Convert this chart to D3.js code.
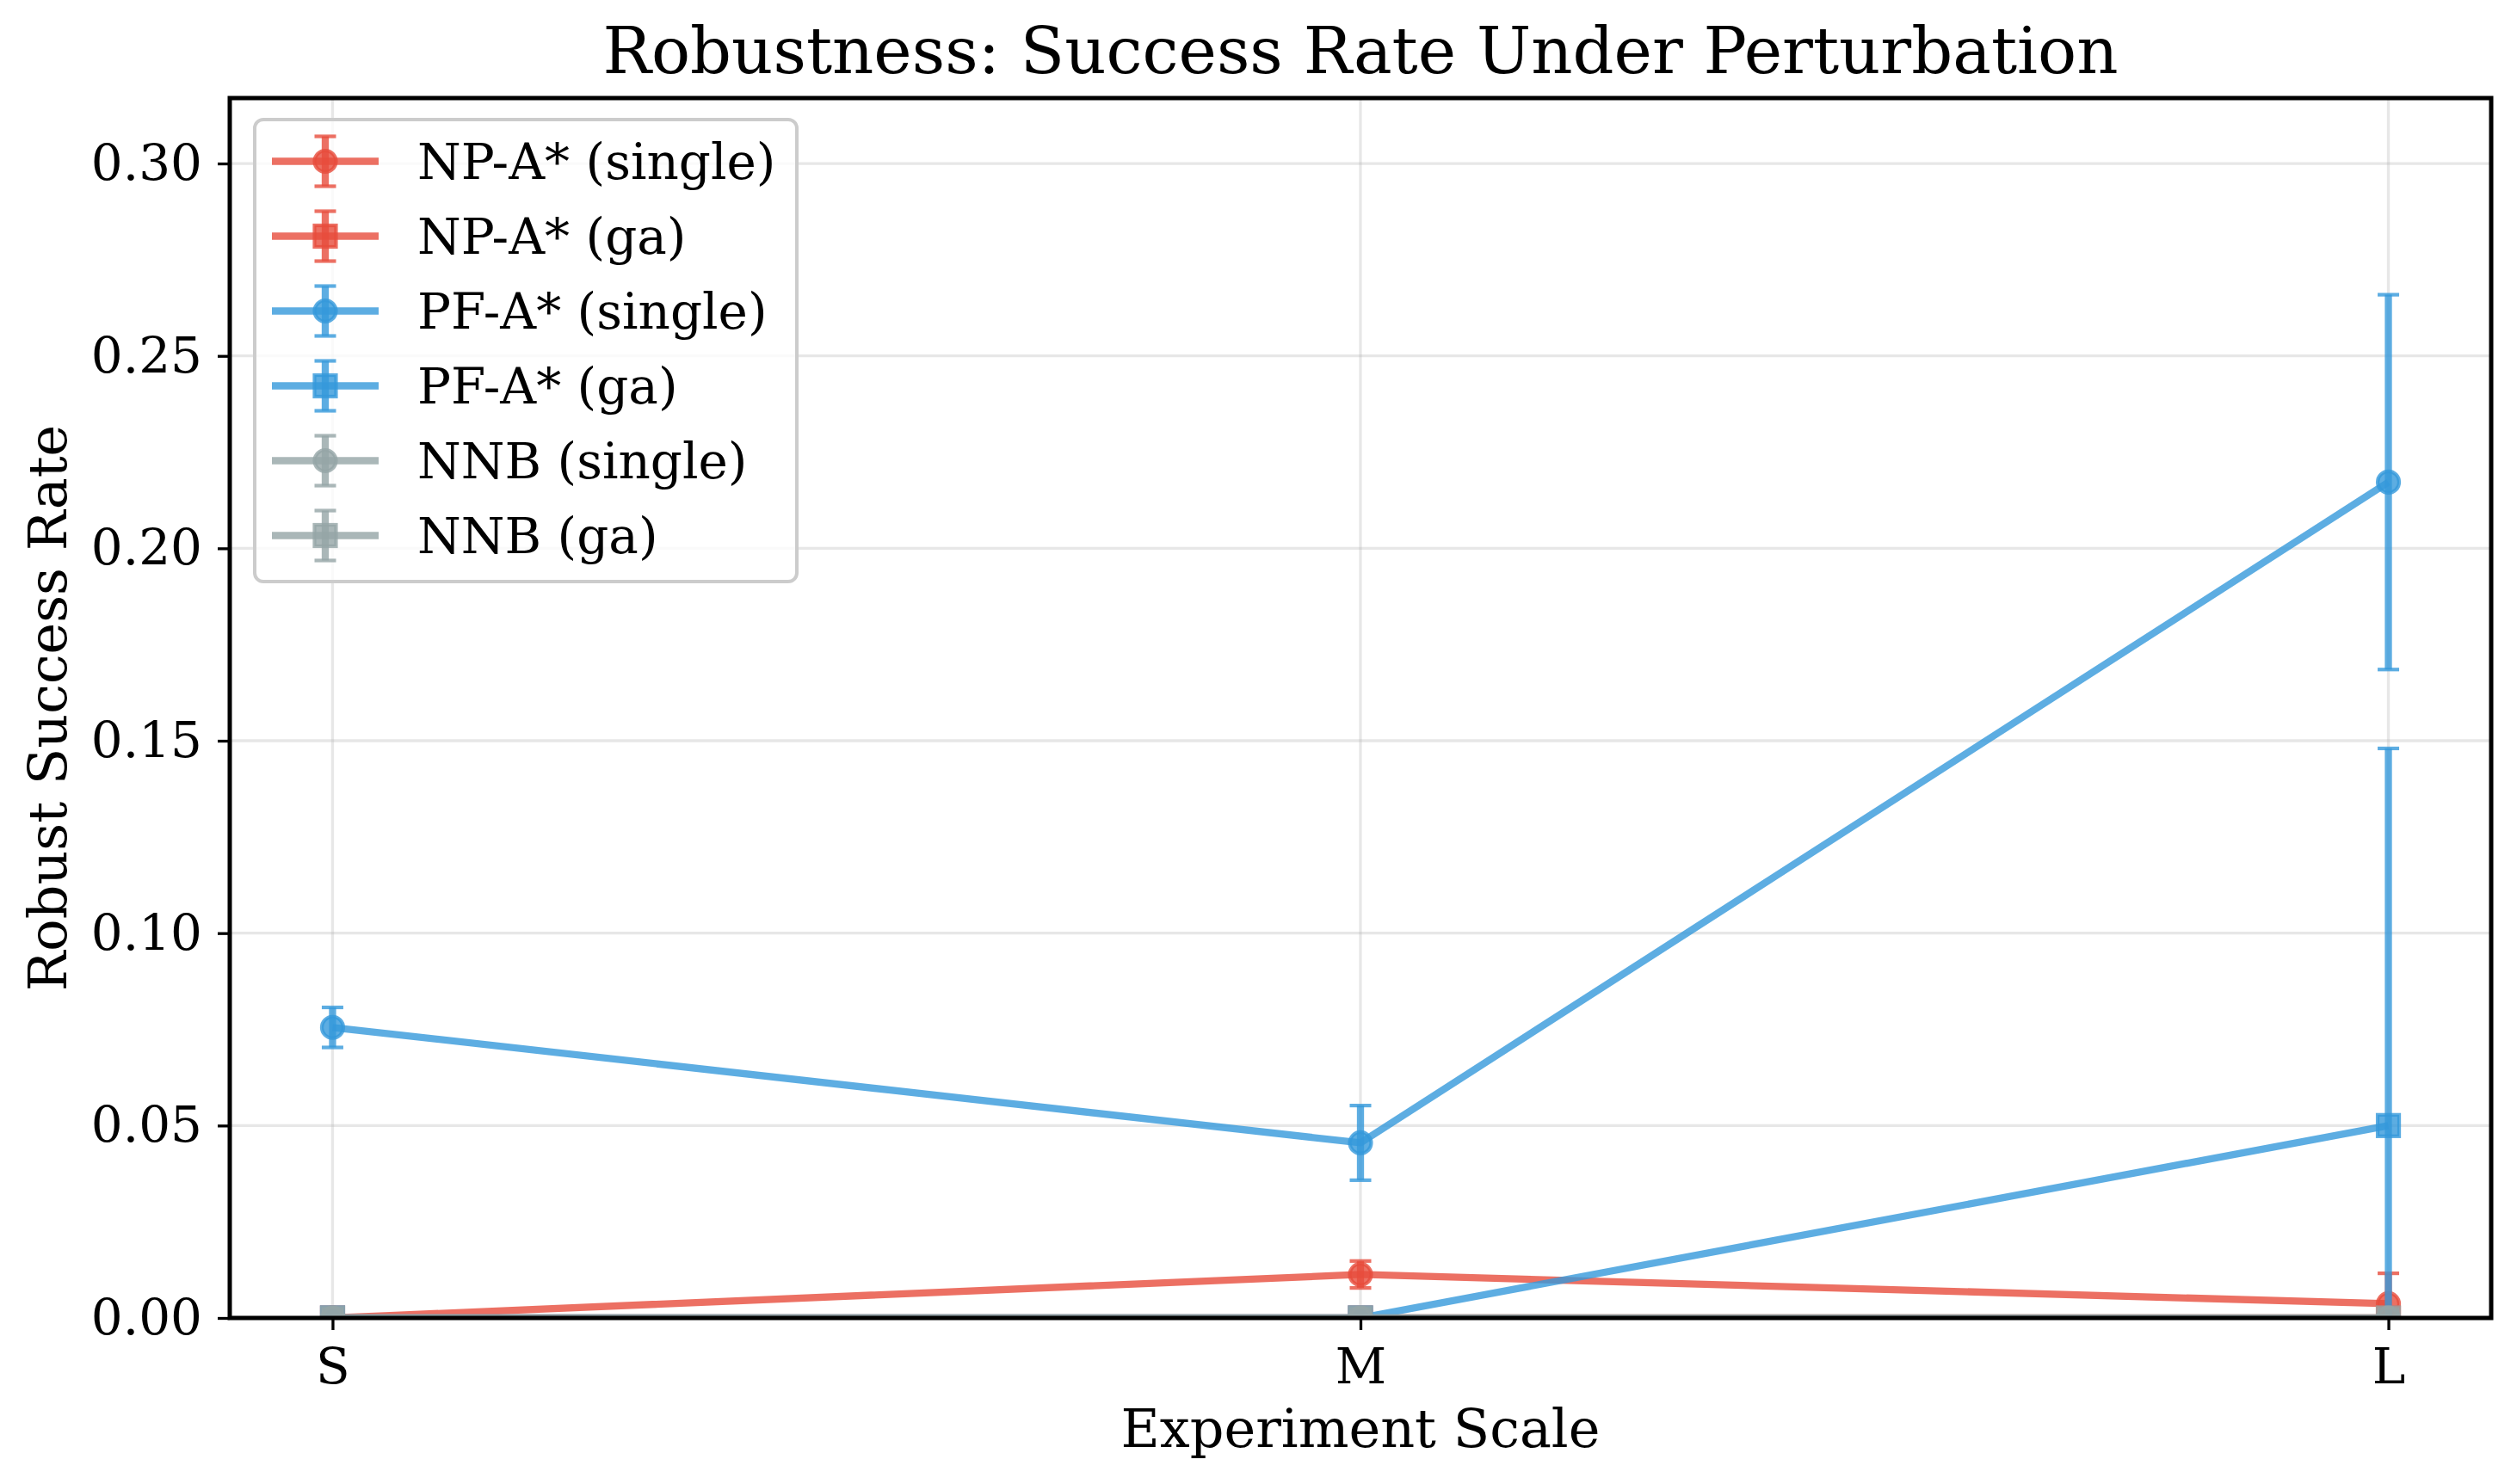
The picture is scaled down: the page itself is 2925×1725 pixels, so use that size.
<!DOCTYPE html>
<html>
<head>
<meta charset="utf-8">
<script src="https://cdn.jsdelivr.net/npm/d3@7"></script>
<style>
  html, body { margin: 0; padding: 0; background: #ffffff; }
  svg { display: block; }
  text { font-family: "DejaVu Serif", serif; fill: #000; }
</style>
</head>
<body>
<svg id="chart" width="2925" height="1725"></svg>
<script>
// ---- data ----
const categories = ["S", "M", "L"];
const yTicks = [0.00, 0.05, 0.10, 0.15, 0.20, 0.25, 0.30];

const seriesNames = ["NP-A* (single)", "NP-A* (ga)", "PF-A* (single)", "PF-A* (ga)", "NNB (single)", "NNB (ga)"];
const npSingle    = [0.0000, 0.0113, 0.0037];
const npSingleErr = [0.0000, 0.0035, 0.0079];
const npGa        = [0.0000, 0.0000, 0.0000];
const npGaErr     = [0.0000, 0.0000, 0.0000];
const pfSingle    = [0.0755, 0.0455, 0.2172];
const pfSingleErr = [0.0052, 0.0097, 0.0487];
const pfGa        = [0.0000, 0.0000, 0.0500];
const pfGaErr     = [0.0000, 0.0000, 0.0980];
const nnbSingle    = [0.0000, 0.0000, 0.0000];
const nnbSingleErr = [0.0000, 0.0000, 0.0000];
const nnbGa        = [0.0000, 0.0000, 0.0000];
const nnbGaErr     = [0.0000, 0.0000, 0.0000];

const seriesValues = [npSingle, npGa, pfSingle, pfGa, nnbSingle, nnbGa];
const seriesErrors = [npSingleErr, npGaErr, pfSingleErr, pfGaErr, nnbSingleErr, nnbGaErr];
const seriesColors = ["#e74c3c", "#e74c3c", "#3498db", "#3498db", "#95a5a6", "#95a5a6"];
const seriesMarkers = ["circle", "square", "circle", "square", "circle", "square"];

// ---- layout ----
const W = 2925, H = 1725;
const plot = { left: 267, right: 2895, top: 114, bottom: 1532 };
const ALPHA = 0.8;
const LW = 8.3, ELW = 8.3, CAPW = 4.2, CAPHALF = 12.5, MS = 25, MEW = 4.2;

const svg = d3.select("#chart");

const x = d3.scalePoint().domain(categories).range([plot.left, plot.right]).padding(0.1);
const y = d3.scaleLinear().domain([0, 0.317]).range([plot.bottom, plot.top]);

svg.append("defs").append("clipPath").attr("id", "clip")
  .append("rect")
  .attr("x", plot.left).attr("y", plot.top)
  .attr("width", plot.right - plot.left).attr("height", plot.bottom - plot.top);

// grid
const grid = svg.append("g");
grid.selectAll("line.h").data(yTicks).join("line")
  .attr("x1", plot.left).attr("x2", plot.right)
  .attr("y1", d => y(d)).attr("y2", d => y(d))
  .attr("stroke", "#b0b0b0").attr("stroke-opacity", 0.3).attr("stroke-width", 3.3);
grid.selectAll("line.v").data(categories).join("line")
  .attr("x1", d => x(d)).attr("x2", d => x(d))
  .attr("y1", plot.top).attr("y2", plot.bottom)
  .attr("stroke", "#b0b0b0").attr("stroke-opacity", 0.3).attr("stroke-width", 3.3);

// markers
function drawMarker(g, type, cx, cy, color) {
  if (type === "circle") {
    g.append("circle").attr("cx", cx).attr("cy", cy).attr("r", MS / 2)
      .attr("fill", color).attr("fill-opacity", ALPHA)
      .attr("stroke", color).attr("stroke-opacity", ALPHA).attr("stroke-width", MEW);
  } else {
    g.append("rect").attr("x", cx - MS / 2).attr("y", cy - MS / 2)
      .attr("width", MS).attr("height", MS)
      .attr("fill", color).attr("fill-opacity", ALPHA)
      .attr("stroke", color).attr("stroke-opacity", ALPHA).attr("stroke-width", MEW);
  }
}

// data
const dataG = svg.append("g").attr("clip-path", "url(#clip)");
seriesValues.forEach((vals, si) => {
  const color = seriesColors[si];
  const errs = seriesErrors[si];
  const g = dataG.append("g");
  const pts = categories.map((c, i) => ({ c, v: vals[i], e: errs[i] }));
  // line
  g.append("path")
    .attr("d", d3.line().x(d => x(d.c)).y(d => y(d.v))(pts))
    .attr("fill", "none").attr("stroke", color).attr("stroke-opacity", ALPHA)
    .attr("stroke-width", LW).attr("stroke-linejoin", "round");
  // error bars
  pts.filter(d => d.e > 0).forEach(d => {
    const cx = x(d.c);
    g.append("line").attr("x1", cx).attr("x2", cx)
      .attr("y1", y(d.v - d.e)).attr("y2", y(d.v + d.e))
      .attr("stroke", color).attr("stroke-opacity", ALPHA).attr("stroke-width", ELW);
    [d.v - d.e, d.v + d.e].forEach(v => {
      g.append("line").attr("x1", cx - CAPHALF).attr("x2", cx + CAPHALF)
        .attr("y1", y(v)).attr("y2", y(v))
        .attr("stroke", color).attr("stroke-opacity", ALPHA).attr("stroke-width", CAPW);
    });
  });
  // markers
  pts.forEach(d => drawMarker(g, seriesMarkers[si], x(d.c), y(d.v), color));
});

// axes
const yAxis = svg.append("g").attr("transform", `translate(${plot.left},0)`)
  .call(d3.axisLeft(y).tickValues(yTicks).tickFormat(d3.format(".2f")).tickSize(14).tickPadding(18));
const xAxis = svg.append("g").attr("transform", `translate(0,${plot.bottom})`)
  .call(d3.axisBottom(x).tickSize(14).tickPadding(21));
[yAxis, xAxis].forEach(a => {
  a.select(".domain").remove();
  a.selectAll(".tick line").attr("stroke", "#000").attr("stroke-width", 3.3);
  a.selectAll(".tick text").attr("font-size", 58).attr("font-family", "DejaVu Serif").attr("fill", "#000");
});

// spines
svg.append("rect")
  .attr("x", plot.left).attr("y", plot.top)
  .attr("width", plot.right - plot.left).attr("height", plot.bottom - plot.top)
  .attr("fill", "none").attr("stroke", "#000").attr("stroke-width", 5);

// title and labels
svg.append("text").attr("x", (plot.left + plot.right) / 2).attr("y", 85)
  .attr("text-anchor", "middle").attr("font-size", 75)
  .text("Robustness: Success Rate Under Perturbation");
svg.append("text").attr("x", (plot.left + plot.right) / 2).attr("y", 1682)
  .attr("text-anchor", "middle").attr("font-size", 62)
  .text("Experiment Scale");
svg.append("text")
  .attr("transform", `translate(77,${(plot.top + plot.bottom) / 2}) rotate(-90)`)
  .attr("text-anchor", "middle").attr("font-size", 62)
  .text("Robust Success Rate");

// legend
const lg = svg.append("g");
lg.append("rect").attr("x", 296).attr("y", 139).attr("width", 630).attr("height", 537)
  .attr("rx", 10).attr("ry", 10)
  .attr("fill", "#ffffff").attr("fill-opacity", 0.8)
  .attr("stroke", "#cccccc").attr("stroke-width", 4);
seriesNames.forEach((name, i) => {
  const cy = 187.5 + i * 87;
  const color = seriesColors[i];
  const g = lg.append("g");
  g.append("line").attr("x1", 316).attr("x2", 440).attr("y1", cy).attr("y2", cy)
    .attr("stroke", color).attr("stroke-opacity", ALPHA).attr("stroke-width", LW);
  g.append("line").attr("x1", 378).attr("x2", 378).attr("y1", cy - 29).attr("y2", cy + 29)
    .attr("stroke", color).attr("stroke-opacity", ALPHA).attr("stroke-width", ELW);
  [cy - 29, cy + 29].forEach(yy => {
    g.append("line").attr("x1", 378 - CAPHALF).attr("x2", 378 + CAPHALF).attr("y1", yy).attr("y2", yy)
      .attr("stroke", color).attr("stroke-opacity", ALPHA).attr("stroke-width", CAPW);
  });
  drawMarker(g, seriesMarkers[i], 378, cy, color);
  g.append("text").attr("x", 485).attr("y", cy).attr("dy", "0.36em")
    .attr("font-size", 58).text(name);
});
</script>
</body>
</html>
